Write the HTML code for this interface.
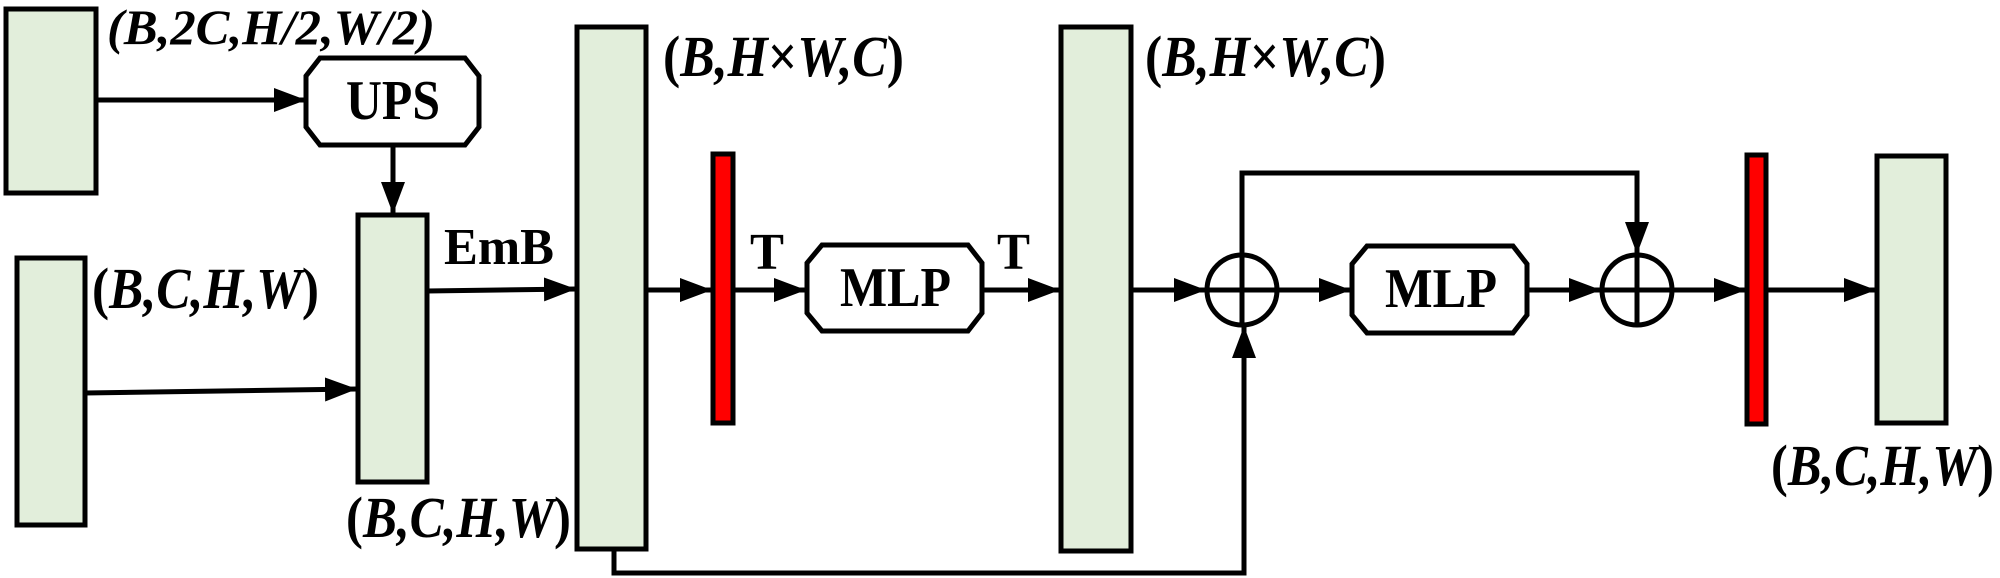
<!DOCTYPE html>
<html><head><meta charset="utf-8"><style>
html,body{margin:0;padding:0;background:#fff;}
svg{display:block;}
text{font-family:"Liberation Serif",serif;font-weight:bold;fill:#000;}
</style></head><body>
<svg width="2000" height="578" viewBox="0 0 2000 578" xmlns="http://www.w3.org/2000/svg">
<defs>
<marker id="a" markerWidth="32" markerHeight="24" refX="32" refY="12" orient="auto" markerUnits="userSpaceOnUse">
<path d="M0,0 L32,12 L0,24 Z" fill="#000"/>
</marker>
</defs>
<g fill="#e2eedb" stroke="#000" stroke-width="5">
<rect x="6" y="9" width="90" height="184"/>
<rect x="17" y="258" width="68" height="267"/>
<rect x="358" y="215" width="69" height="267"/>
<rect x="577" y="27" width="69" height="522"/>
<rect x="1061" y="27" width="70" height="524"/>
<rect x="1877" y="156" width="69" height="267"/>
</g>
<g fill="#ff0000" stroke="#000" stroke-width="5">
<rect x="713" y="154" width="20" height="269"/>
<rect x="1747" y="155" width="19" height="269"/>
</g>
<g fill="#fff" stroke="#000" stroke-width="5">
<path d="M320,58 L465,58 L479,76 L479,127 L465,145 L320,145 L306,127 L306,76 Z"/>
<path d="M822,245 L968,245 L982,263 L982,313 L968,331 L822,331 L807,313 L807,263 Z"/>
<path d="M1367,246 L1513,246 L1527,264 L1527,315 L1513,333 L1367,333 L1352,315 L1352,264 Z"/>
<circle cx="1242" cy="290" r="35"/>
<circle cx="1637" cy="290" r="35"/>
</g>
<g stroke="#000" stroke-width="5" fill="none">
<line x1="1242" y1="255" x2="1242" y2="325"/>
<line x1="1207" y1="290" x2="1277" y2="290"/>
<line x1="1637" y1="255" x2="1637" y2="325"/>
<line x1="1602" y1="290" x2="1672" y2="290"/>
<line x1="96" y1="100" x2="306" y2="100" marker-end="url(#a)"/>
<line x1="393" y1="145" x2="393" y2="214" marker-end="url(#a)"/>
<line x1="85" y1="393" x2="357" y2="389" marker-end="url(#a)"/>
<line x1="427" y1="291" x2="576" y2="289" marker-end="url(#a)"/>
<line x1="646" y1="290" x2="712" y2="290" marker-end="url(#a)"/>
<line x1="733" y1="290" x2="806" y2="290" marker-end="url(#a)"/>
<line x1="982" y1="290" x2="1060" y2="290" marker-end="url(#a)"/>
<line x1="1131" y1="290" x2="1206" y2="290" marker-end="url(#a)"/>
<line x1="1277" y1="290" x2="1351" y2="290" marker-end="url(#a)"/>
<line x1="1527" y1="290" x2="1601" y2="290" marker-end="url(#a)"/>
<line x1="1672" y1="290" x2="1746" y2="290" marker-end="url(#a)"/>
<line x1="1766" y1="290" x2="1876" y2="290" marker-end="url(#a)"/>
<polyline points="1242,255 1242,173 1637,173 1637,254" marker-end="url(#a)"/>
<polyline points="614,549 614,573 1244,573 1244,326" marker-end="url(#a)"/>
</g>
<text x="107" y="44" font-size="50" font-style="italic" textLength="328" lengthAdjust="spacingAndGlyphs">(B,2C,H/2,W/2)</text>
<text x="346" y="119" font-size="56" textLength="94" lengthAdjust="spacingAndGlyphs">UPS</text>
<text x="444" y="264" font-size="52" textLength="110" lengthAdjust="spacingAndGlyphs">EmB</text>
<text x="92" y="308" font-size="58" textLength="227" lengthAdjust="spacingAndGlyphs">(<tspan font-style="italic">B,C,H,W</tspan>)</text>
<text x="346" y="537" font-size="58" textLength="225" lengthAdjust="spacingAndGlyphs">(<tspan font-style="italic">B,C,H,W</tspan>)</text>
<text x="663" y="76" font-size="58" textLength="241" lengthAdjust="spacingAndGlyphs">(<tspan font-style="italic">B,H</tspan>×<tspan font-style="italic">W,C</tspan>)</text>
<text x="1145" y="76" font-size="58" textLength="241" lengthAdjust="spacingAndGlyphs">(<tspan font-style="italic">B,H</tspan>×<tspan font-style="italic">W,C</tspan>)</text>
<text x="750" y="269" font-size="52" textLength="34" lengthAdjust="spacingAndGlyphs">T</text>
<text x="997" y="269" font-size="52" textLength="33" lengthAdjust="spacingAndGlyphs">T</text>
<text x="840" y="306" font-size="56" textLength="111" lengthAdjust="spacingAndGlyphs">MLP</text>
<text x="1385" y="307" font-size="56" textLength="112" lengthAdjust="spacingAndGlyphs">MLP</text>
<text x="1771" y="485" font-size="58" textLength="223" lengthAdjust="spacingAndGlyphs">(<tspan font-style="italic">B,C,H,W</tspan>)</text>
</svg>
</body></html>
